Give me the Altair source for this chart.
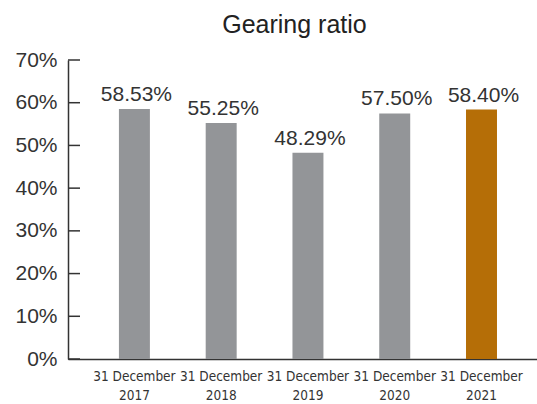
import altair as alt
import pandas as pd

# Gearing ratio at each year end
periods = ["31 December 2017", "31 December 2018", "31 December 2019",
           "31 December 2020", "31 December 2021"]
ratios = [58.53, 55.25, 48.29, 57.50, 58.40]
bar_colors = ["#939598", "#939598", "#939598", "#939598", "#B56E07"]
y_ticks = [0, 10, 20, 30, 40, 50, 60, 70]

df = pd.DataFrame({"period": periods, "ratio": ratios, "color": bar_colors})
df["label"] = [f"{v:.2f}%" for v in ratios]
ticks_df = pd.DataFrame({"tick": y_ticks})

x_enc = alt.X(
    "period:N",
    sort=periods,
    title=None,
    scale=alt.Scale(paddingInner=0.643, paddingOuter=0.524, align=0.56),
    axis=alt.Axis(
        labelExpr="[slice(datum.label, 0, 11), slice(datum.label, 12)]",
        labelAngle=0,
        ticks=False,
        labelPadding=10,
        labelFont="DejaVu Sans Condensed, Liberation Sans",
        labelFontSize=13.5,
        labelLineHeight=19,
        labelColor="#333333",
        domainColor="#333333",
        domainWidth=1.5,
        grid=False,
    ),
)
y_scale = alt.Scale(domain=[0, 70], nice=False)

bars = alt.Chart(df).mark_bar().encode(
    x=x_enc,
    y=alt.Y(
        "ratio:Q",
        scale=y_scale,
        title=None,
        axis=alt.Axis(
            values=y_ticks,
            labelExpr="datum.value + '%'",
            ticks=False,
            labelPadding=11,
            labelFont="Liberation Sans",
            labelFontSize=21,
            labelColor="#333333",
            domainColor="#333333",
            domainWidth=1.5,
            grid=False,
        ),
    ),
    color=alt.Color("color:N", scale=None),
)

labels = alt.Chart(df).mark_text(
    baseline="bottom", dy=-4, dx=2, fontSize=21, font="Liberation Sans", color="#333333"
).encode(
    x=alt.X("period:N", sort=periods),
    y=alt.Y("ratio:Q", scale=y_scale),
    text="label:N",
)

# inward-pointing tick marks on the value axis
ticks = alt.Chart(ticks_df).mark_rule(color="#333333", strokeWidth=1.5).encode(
    x=alt.value(0),
    x2=alt.value(12),
    y=alt.Y("tick:Q", scale=y_scale),
)

chart = (
    alt.layer(bars, labels, ticks)
    .properties(
        width=469,
        height=299,
        title=alt.TitleParams(
            "Gearing ratio", fontSize=25, font="Liberation Sans",
            fontWeight="normal", color="#222222", offset=11, dx=-8,
        ),
        autosize=alt.AutoSizeParams(type="none"),
        padding={"left": 68, "top": 60, "right": 0, "bottom": 45},
    )
    .configure_view(stroke=None)
)

chart.save("out.html", embed_options={"renderer": "svg", "actions": False})
